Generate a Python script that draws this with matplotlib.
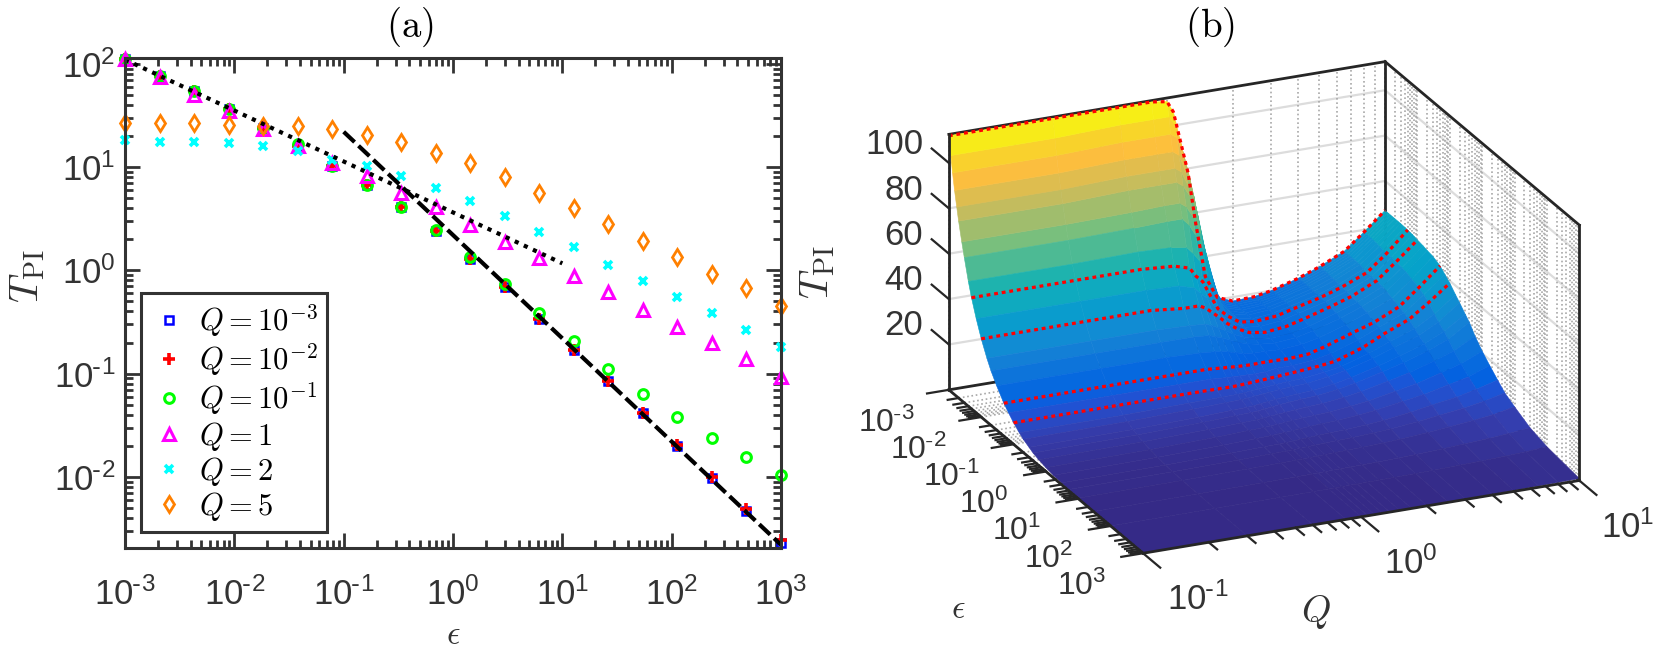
import numpy as np
import matplotlib
matplotlib.use("Agg")
import matplotlib.pyplot as plt
from matplotlib.colors import LinearSegmentedColormap
from matplotlib.ticker import LogLocator, NullFormatter

plt.rcParams['font.family'] = ['Liberation Sans', 'DejaVu Sans']
plt.rcParams['mathtext.fontset'] = 'cm'

dark = '#333333'

# panel (a) data
eps = [0.001, 0.00207, 0.00428, 0.00886, 0.0183, 0.0379, 0.0785, 0.162, 0.336, 0.695,
       1.44, 2.98, 6.16, 12.7, 26.4, 54.6, 113, 234, 483, 1000]
t_q0001 = [111.8, 76.5, 54.7, 36.6, 23.9, 16.0, 10.2, 6.69, 4.09, 2.39,
           1.28, 0.684, 0.342, 0.171, 0.0855, 0.0418, 0.0200, 0.00977, 0.00468, 0.00229]
t_q001 = [111.8, 76.5, 54.7, 36.6, 23.9, 16.0, 10.2, 6.69, 4.09, 2.39,
          1.28, 0.684, 0.342, 0.171, 0.0855, 0.0418, 0.0205, 0.0100, 0.00490, 0.00245]
t_q01 = [111.8, 76.5, 54.7, 36.6, 23.9, 16.7, 10.2, 6.69, 4.09, 2.44,
         1.34, 0.731, 0.383, 0.205, 0.112, 0.0640, 0.0383, 0.0239, 0.0156, 0.0105]
t_q1 = [111.8, 74.8, 50.0, 35.0, 23.4, 16.0, 10.9, 8.18, 5.59, 4.09,
        2.73, 1.87, 1.31, 0.874, 0.611, 0.418, 0.286, 0.196, 0.140, 0.0935]
t_q2 = [18.3, 17.5, 17.5, 17.1, 16.0, 14.3, 11.7, 10.2, 8.18, 6.25,
        4.68, 3.34, 2.34, 1.67, 1.14, 0.782, 0.547, 0.383, 0.267, 0.183]
t_q5 = [26.7, 26.7, 26.7, 25.6, 25.0, 24.8, 23.4, 20.5, 17.5, 13.7,
        10.9, 8.0, 5.59, 4.0, 2.8, 1.91, 1.34, 0.914, 0.669, 0.457]

dotted_eps = [0.001, 10]
dotted_t = [110, 1.17]
dashed_eps = [0.1, 1000]
dashed_t = [22, 0.0022]

# panel (b) data, one row of T per Q value
q_grid = [0.1, 0.3, 0.6, 0.85, 1, 1.07, 1.15, 1.25, 1.35, 1.5, 1.7, 2, 2.5, 3, 4, 5, 6.5, 8, 10]
eps_grid = [0.001, 0.00115, 0.0013, 0.0015, 0.00175, 0.002, 0.0025, 0.003, 0.004, 0.005, 0.007,
            0.01, 0.015, 0.02, 0.03, 0.05, 0.07, 0.1, 0.15, 0.2, 0.3, 0.4, 0.6, 1, 1.7, 3, 5,
            10, 30, 100, 1000]
t_grid = [
    [112, 104, 97, 90, 83.5, 78, 70, 64, 55, 49, 41.5, 34.5, 28, 24, 19.5, 14.5, 12, 9.5, 7.2, 5.8, 4.4, 3.4, 2.5, 1.7, 1.1, .72, .46, .28, .12, .045, .0103],
    [112, 104, 97, 90, 83.5, 78, 70, 64, 55, 49, 41.5, 34.5, 28, 24, 19.5, 14.5, 12, 9.5, 7.3, 6, 4.6, 3.7, 2.8, 2, 1.4, .95, .65, .45, .22, .1, .03],
    [112, 105, 98, 91, 84.5, 79, 70.5, 64.5, 55.5, 49, 41.5, 34.5, 28, 24, 19.5, 14.5, 12, 9.5, 7.8, 6.6, 5.2, 4.4, 3.4, 2.6, 1.9, 1.4, 1, .7, .38, .18, .06],
    [112, 105, 98, 91, 84.5, 79, 71, 65, 55, 48, 41, 33, 27.5, 24, 19, 14.5, 12, 9.4, 8, 7.1, 5.8, 5, 3.9, 3.2, 2.4, 1.75, 1.3, .9, .52, .27, .085],
    [111, 105, 98, 91, 84.5, 79, 71, 65, 54, 46, 39, 33, 27, 23.5, 18.5, 14, 11.5, 9.3, 8.1, 7.3, 6, 5.2, 4.1, 3.4, 2.6, 1.87, 1.4, .98, .57, .3, .0935],
    [106, 101, 96, 89, 82.5, 77, 69, 62, 51, 42, 36, 31.5, 26, 22.5, 18, 13.8, 11.4, 9.4, 8.3, 7.5, 6.2, 5.4, 4.4, 3.6, 2.8, 2, 1.5, 1.05, .62, .33, .1],
    [93, 90, 86, 81, 76, 72, 64, 57, 47, 39, 33.5, 29, 24.5, 21.5, 17.5, 13.6, 11.3, 9.6, 8.6, 7.8, 6.6, 5.8, 4.7, 3.8, 3, 2.15, 1.6, 1.15, .68, .36, .11],
    [78, 76, 73, 70, 66, 63, 56, 50, 40, 32, 29, 26, 22.5, 20, 16.5, 13.4, 11.2, 9.8, 8.9, 8.2, 7, 6.2, 5, 4.1, 3.2, 2.35, 1.75, 1.25, .74, .4, .12],
    [56, 55, 53.5, 52, 49.5, 47, 43, 39, 32, 26, 24.5, 23, 20.5, 18.5, 15.5, 13.3, 11.1, 10, 9.2, 8.5, 7.4, 6.6, 5.3, 4.4, 3.5, 2.55, 1.9, 1.35, .8, .43, .13],
    [31, 30.5, 30, 29.5, 29, 28, 26.5, 25, 23, 22, 21, 20, 18.5, 17, 15, 13.4, 11.2, 10.3, 9.6, 8.9, 7.8, 7, 5.7, 4.7, 3.8, 2.8, 2.1, 1.5, .88, .47, .145],
    [21, 20.9, 20.8, 20.5, 20.3, 20, 19.8, 19.5, 19, 18.5, 18, 17.5, 16.8, 16, 15, 13.4, 12, 10.7, 10, 9.3, 8.2, 7.4, 6.1, 5, 4.1, 3.05, 2.3, 1.65, .96, .52, .165],
    [18.3, 18.3, 18.2, 18.1, 18, 17.9, 17.8, 17.8, 17.7, 17.7, 17.2, 16.5, 15.9, 15.4, 14.6, 13.2, 12, 11.2, 10.3, 9.6, 8.6, 7.8, 6.5, 5.4, 4.4, 3.3, 2.5, 1.8, 1.05, .57, .183],
    [18.6, 18.6, 18.6, 18.6, 18.6, 18.6, 18.6, 18.6, 18.6, 18.5, 18.2, 17.5, 16.8, 16.2, 15.4, 13.8, 12.8, 12, 11.5, 11, 9.9, 9, 7.6, 6.4, 5.2, 3.9, 3, 2.2, 1.3, .7, .23],
    [20, 20, 20, 20, 20.2, 20.3, 20.3, 20.4, 20.5, 20.5, 20.2, 19.5, 18.5, 18, 17, 16, 14.5, 13, 12.8, 12.5, 11.5, 10.5, 8.9, 7.4, 6.1, 4.6, 3.5, 2.6, 1.55, .85, .28],
    [23.5, 23.5, 23.5, 23.5, 23.5, 23.5, 23.5, 23.5, 23.5, 23.5, 23.3, 23, 22.3, 21.5, 20.8, 20, 18.5, 17, 16.5, 15.8, 14.6, 13.5, 11.5, 9.7, 8, 6.2, 4.7, 3.5, 2.1, 1.15, .38],
    [27, 27, 27, 27, 27, 26.9, 26.9, 26.8, 26.6, 26.5, 26.3, 26, 25.5, 25, 24.5, 23, 22.5, 21.5, 20.2, 19, 17.4, 16, 13.7, 11.5, 9.5, 7.8, 5.9, 4.4, 2.65, 1.4, .457],
    [32, 32, 32, 32, 32, 32, 31.9, 31.8, 31.4, 31, 31, 31, 30.5, 30, 29, 28, 27, 26, 24, 22.5, 21, 19.5, 17, 14.5, 12, 9.5, 7.3, 5.5, 3.3, 1.8, .58],
    [39, 39, 39, 39, 39, 39, 38.8, 38.5, 38.2, 38, 38, 38, 37.5, 37, 36, 35, 33.5, 32, 29, 27, 25, 23, 20, 17, 14, 11.5, 8.8, 6.6, 4, 2.2, .72],
    [47, 47, 47, 47, 47, 47, 47, 47, 46.9, 46.8, 46.5, 46, 45.5, 45, 44.5, 43, 41, 39, 36, 34, 31, 29, 25, 21, 17.5, 14, 11, 8.5, 5, 2.9, .9],
]
red_eps = [0.001, 0.005, 0.01, 0.05, 0.1]
z_ticks = [20, 40, 60, 80, 100]

# parula, a few of its 64 rows
parula_idx = [1, 4, 7, 9, 16, 19, 24, 30, 38, 46, 54, 60, 64]
parula_rgb = [(.2081, .1663, .5292), (.2081, .2386, .6771), (.1253, .3242, .8303), (.0117, .3875, .8820),
              (.0779, .5040, .8384), (.0641, .5570, .8240), (.0231, .6418, .7913), (.1133, .7015, .6859),
              (.4420, .7481, .5033), (.7525, .7384, .3768), (.9938, .7455, .2403), (.9626, .8705, .1309),
              (.9763, .9831, .0538)]
parula = LinearSegmentedColormap.from_list(
    'parula', [((i - 1) / 63, c) for i, c in zip(parula_idx, parula_rgb)])


def power_label(n):
    if n < 0:
        return r'$\mathdefault{10^{\text{-}%d}}$' % -n
    return r'$\mathdefault{10^{%d}}$' % n


def px_text(x, y, s, **kw):
    # x, y in pixels from the top left corner
    fig.text(x / 1661, 1 - y / 650, s, **kw)


fig = plt.figure(figsize=(16.61, 6.5), dpi=100)

# ---------- panel (a) ----------
ax = fig.add_axes([125 / 1661, (650 - 548) / 650, 656 / 1661, 490 / 650])
marker_kw = dict(linestyle='none', fillstyle='none', clip_on=False)
ax.loglog(eps, t_q0001, 's', color=(0, 0, 1), ms=6, mew=1.8, label=r'$Q=10^{-3}$', **marker_kw)
ax.loglog(eps, t_q001, '+', color=(1, 0, 0), ms=8, mew=2.6, label=r'$Q=10^{-2}$', **marker_kw)
ax.loglog(eps, t_q01, 'o', color=(0, 1, 0), ms=7, mew=2.2, label=r'$Q=10^{-1}$', **marker_kw)
ax.loglog(eps, t_q1, '^', color=(1, 0, 1), ms=8.5, mew=2.2, label=r'$Q=1$', **marker_kw)
ax.loglog(eps, t_q2, 'x', color=(0, 1, 1), ms=6, mew=2.6, label=r'$Q=2$', **marker_kw)
ax.loglog(eps, t_q5, 'd', color=(1, 0.5, 0), ms=8, mew=2.0, label=r'$Q=5$', **marker_kw)
ax.loglog(dotted_eps, dotted_t, color='k', lw=3, linestyle=(0, (1, 1.4)))
ax.loglog(dashed_eps, dashed_t, color='k', lw=3, linestyle=(0, (3.6, 1.3)))

ax.set_xlim(1e-3, 1e3)
ax.set_ylim(2.05e-3, 114)
ax.set_xticks([10.0 ** n for n in range(-3, 4)], [power_label(n) for n in range(-3, 4)])
ax.set_yticks([10.0 ** n for n in range(-2, 3)], [power_label(n) for n in range(-2, 3)])
for a in (ax.xaxis, ax.yaxis):
    a.set_minor_locator(LogLocator(base=10, subs=range(2, 10), numticks=100))
    a.set_minor_formatter(NullFormatter())
ax.tick_params(which='major', direction='in', top=True, right=True, length=10.5, width=2,
               color=dark, labelcolor=dark, labelsize=25)
ax.tick_params(axis='x', which='major', pad=21)
ax.tick_params(axis='y', which='major', pad=7)
ax.tick_params(which='minor', direction='in', top=True, right=True, length=5.5, width=2, color=dark)
for s in ax.spines.values():
    s.set_linewidth(2.2)
    s.set_color(dark)

leg = ax.legend(loc='lower left', bbox_to_anchor=(16 / 656, 16 / 490), borderaxespad=0,
                fontsize=22, fancybox=False, framealpha=1, edgecolor=dark, numpoints=1,
                handlelength=1.25, handletextpad=0.35, labelspacing=0.07, borderpad=0.3)
leg.get_frame().set_linewidth(2.2)

px_text(410, 27, r'$\mathrm{(a)}$', fontsize=28, ha='center', va='center')
px_text(453, 636, r'$\epsilon$', fontsize=24, ha='center', va='center', color=dark)
px_text(28, 276, r'$T_{\rm PI}$', fontsize=29, rotation=90, ha='center', va='center', color=dark)

# ---------- panel (b) ----------
z_top = 112.6
size = 708
ax3 = fig.add_axes([900.5 / 1661, -21 / 650, size / 1661, size / 650],
                   projection='3d', proj_type='ortho', computed_zorder=False)
ax3.set_axis_off()
ax3.patch.set_visible(False)
ax3.view_init(elev=22, azim=-114)
ax3.set_box_aspect((1, 1, 0.577))

lq = np.log10(q_grid)
le = np.log10(eps_grid)
L_e, L_q = np.meshgrid(le, lq)
T = np.array(t_grid)

q_minor = [np.log10(k * 10.0 ** d) for d in (-1, 0) for k in range(1, 10)] + [1.0]
e_minor = [np.log10(k * 10.0 ** d) for d in range(-3, 3) for k in range(1, 10)] + [3.0]

grid_solid = dict(color='#dcdcdc', lw=1.6, zorder=1)
grid_dot = dict(color='#a8a8a8', lw=1.2, linestyle=(0, (1, 1.6)), zorder=1)

# walls and floor
for z in z_ticks:
    ax3.plot([-1, 1], [-3, -3], [z, z], **grid_solid)
    ax3.plot([1, 1], [-3, 3], [z, z], **grid_solid)
for q in q_minor:
    ax3.plot([q, q], [-3, -3], [0, z_top], **grid_dot)
    ax3.plot([q, q], [-3, 3], [0, 0], **grid_dot)
for e in e_minor:
    ax3.plot([1, 1], [e, e], [0, z_top], **grid_dot)
    ax3.plot([-1, 1], [e, e], [0, 0], **grid_dot)

frame = dict(color='#262626', lw=2.0, solid_capstyle='projecting')
ax3.plot([-1, 1], [-3, -3], [0, 0], zorder=1.5, **frame)
ax3.plot([1, 1], [-3, 3], [0, 0], zorder=1.5, **frame)
ax3.plot([1, 1], [-3, -3], [0, z_top], zorder=1.5, **frame)
ax3.plot([-1, 1], [-3, -3], [z_top, z_top], zorder=1.5, **frame)
ax3.plot([1, 1], [-3, 3], [z_top, z_top], zorder=1.5, **frame)

surf = ax3.plot_surface(L_q, L_e, T, cmap=parula, vmin=0, vmax=112, rstride=1, cstride=1,
                        linewidth=0, antialiased=True, shade=False, zorder=2)
surf.set_edgecolor('face')
surf.set_linewidth(0.4)

for e_val in red_eps:
    i = eps_grid.index(e_val)
    ax3.plot(lq, np.full(len(lq), le[i]), T[:, i], color='#ff0000', lw=2.3,
             linestyle=(0, (1.2, 1.2)), zorder=3)

# front edges and ticks
ax3.plot([-1, -1], [-3, -3], [0, z_top], zorder=4, **frame)
ax3.plot([-1, -1], [-3, 3], [0, 0], zorder=4, **frame)
ax3.plot([-1, 1], [3, 3], [0, 0], zorder=4, **frame)
ax3.plot([1, 1], [3, 3], [0, z_top], zorder=4, **frame)

tick = dict(color='#262626', lw=1.6, zorder=4)
for z in z_ticks:
    ax3.plot([-1, -1], [-3, -3.53], [z, z], **tick)
for q in q_minor:
    major = abs(q - round(q)) < 1e-9
    ax3.plot([q, q], [3, 3 + (0.53 if major else 0.26)], [0, 0], **tick)
for e in e_minor:
    major = abs(e - round(e)) < 1e-9
    ax3.plot([-1, -1 - (0.1 if major else 0.05)], [e, e], [0, 0], **tick)

ax3.set_xlim(-1, 1, view_margin=0)
ax3.set_ylim(3, -3, view_margin=0)
ax3.set_zlim(0, z_top, view_margin=0)

label_kw = dict(fontsize=25, color=dark, va='center')
for k, z in enumerate(z_ticks):
    px_text(923, 326 - 45.3 * k, str(z), ha='right', **label_kw)
for k, n in enumerate(range(-3, 4)):
    px_text(886 + 32.6 * k, 423 + 27.2 * k, power_label(n), ha='center', fontsize=23, color=dark, va='center')
for n, x, y in zip((-1, 0, 1), (1198, 1411, 1628), (600, 564, 528)):
    px_text(x, y, power_label(n), ha='center', **label_kw)

px_text(1210, 27, r'$\mathrm{(b)}$', fontsize=28, ha='center', va='center')
px_text(958, 610, r'$\epsilon$', fontsize=24, ha='center', va='center', color=dark)
px_text(1316, 612, r'$Q$', fontsize=27, ha='center', va='center', color=dark)
px_text(818, 272, r'$T_{\rm PI}$', fontsize=29, rotation=90, ha='center', va='center', color=dark)

fig.savefig('out.png', dpi=100)
